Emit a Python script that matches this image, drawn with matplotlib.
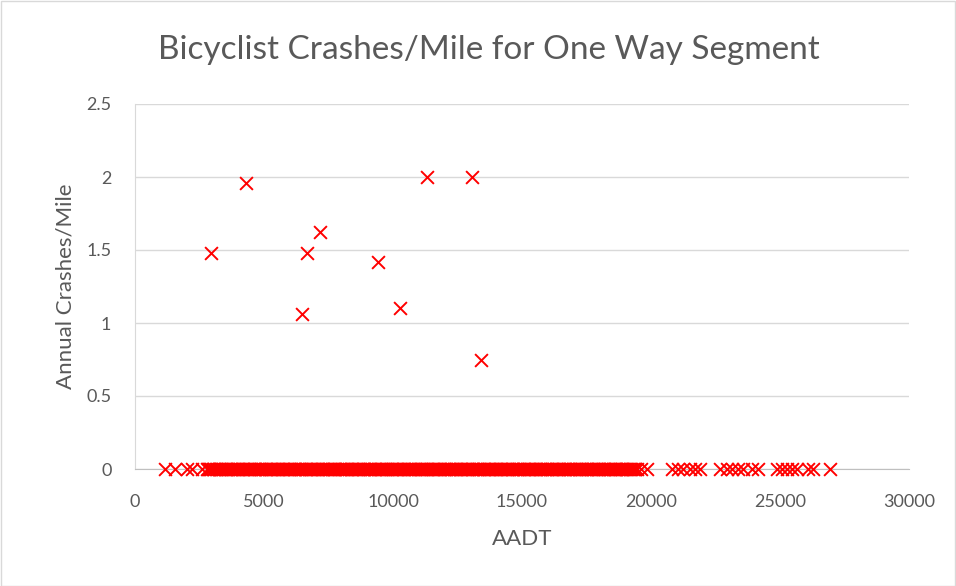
import matplotlib
matplotlib.use("Agg")
import matplotlib.pyplot as plt
from matplotlib.patches import Rectangle

# Non-zero crash segments
x_nonzero = [2950, 4300, 6470, 6670, 7170, 9420, 10270, 11320, 13060, 13410]
y_nonzero = [1.48, 1.96, 1.06, 1.48, 1.62, 1.42, 1.10, 2.00, 2.00, 0.75]

# Segments with zero crashes (AADT values)
x_zero_a = [
    1160, 1550, 2010, 2200, 2600,
    2790, 2870, 2960,
    3020, 3130, 3250, 3340, 3470, 3560, 3680, 3790, 3900,
    4010, 4140, 4230, 4360, 4450, 4580, 4670, 4800, 4890,
    5030, 5120, 5250, 5340, 5470, 5560, 5690, 5780, 5910,
    6000, 6130, 6220, 6350, 6440, 6570, 6660, 6790, 6880,
    7020, 7110, 7240, 7330, 7460, 7550, 7680, 7770, 7900,
    8010, 8140, 8230, 8360, 8450, 8580, 8670, 8800, 8890,
    9030, 9120, 9250, 9340, 9470, 9560, 9690, 9780, 9910,
    10000, 10130, 10220, 10350, 10440, 10570, 10660, 10790, 10880,
    11020, 11110, 11240, 11330, 11460, 11550, 11680, 11770, 11900,
    12010, 12140, 12230, 12360, 12450, 12580, 12670, 12800, 12890,
    13030, 13120, 13250, 13340, 13470, 13560, 13690, 13780, 13910,
    14000, 14130, 14220, 14350, 14440, 14570, 14660, 14790, 14880,
    15020, 15110, 15240, 15330, 15460, 15550, 15680, 15770, 15900,
    16010, 16140, 16230, 16360, 16450, 16580, 16670, 16800, 16890,
    17030, 17120, 17250, 17340, 17470, 17560, 17690, 17780, 17910,
    18000, 18130, 18220, 18350, 18440, 18570, 18660, 18790, 18880,
    19020, 19110, 19240, 19330, 19450,
    19600, 19850,
    20810, 21050, 21240, 21510, 21710, 21900,
    22670, 22950, 23140, 23370, 23570, 23910,
    24150, 24880, 25080, 25270, 25470, 25660, 26090, 26280, 26940,
]
x_zero_b = [
    2830, 2910,
    3070, 3190, 3290, 3400, 3510, 3620, 3730, 3840, 3950,
    4070, 4190, 4290, 4400, 4510, 4620, 4730, 4840, 4950,
    5070, 5180, 5290, 5400, 5510, 5620, 5730, 5850, 5960,
    6060, 6170, 6290, 6400, 6510, 6620, 6730, 6840, 6950,
    7070, 7180, 7290, 7400, 7510, 7620, 7730, 7840, 7960,
    8070, 8180, 8300, 8410, 8520, 8630, 8740, 8850, 8960,
    9080, 9190, 9300, 9410, 9520, 9630, 9740, 9850, 9960,
    10060, 10170, 10290, 10400, 10510, 10620, 10730, 10840, 10950,
    11070, 11180, 11290, 11400, 11510, 11620, 11730, 11840, 11960,
    12070, 12180, 12300, 12410, 12520, 12630, 12740, 12850, 12960,
    13080, 13190, 13300, 13410, 13520, 13630, 13740, 13850, 13960,
    14060, 14170, 14290, 14400, 14510, 14620, 14730, 14840, 14950,
    15070, 15180, 15290, 15400, 15510, 15620, 15730, 15840, 15960,
    16070, 16180, 16300, 16410, 16520, 16630, 16740, 16850, 16960,
    17080, 17190, 17300, 17410, 17520, 17630, 17740, 17850, 17960,
    18060, 18170, 18290, 18400, 18510, 18620, 18730, 18840, 18950,
    19070, 19180, 19290, 19390,
]
x_zero = x_zero_a + x_zero_b
y_zero = [0] * len(x_zero)

title = "Bicyclist Crashes/Mile for One Way Segment"
x_label = "AADT"
y_label = "Annual Crashes/Mile"
x_ticks = [0, 5000, 10000, 15000, 20000, 25000, 30000]
y_ticks = [0, 0.5, 1, 1.5, 2, 2.5]
y_tick_labels = ["0", "0.5", "1", "1.5", "2", "2.5"]

W, H = 956, 586
fig = plt.figure(figsize=(W / 100, H / 100), dpi=100)
plt.rcParams['font.family'] = ['Lato', 'DejaVu Sans']
txt = "#595959"

ax = fig.add_axes([135 / W, 1 - 469 / H, (909 - 135) / W, (469 - 104) / H])
ax.set_xlim(0, 30000)
ax.set_ylim(0, 2.5)
ax.set_xticks(x_ticks)
ax.set_yticks(y_ticks)
ax.set_yticklabels(y_tick_labels)
ax.grid(axis='y', color='#d9d9d9', linewidth=1)
ax.set_axisbelow(True)
for s in ['top', 'right']:
    ax.spines[s].set_visible(False)
ax.spines['left'].set_color('#d9d9d9')
ax.spines['bottom'].set_color('#bfbfbf')
ax.tick_params(axis='x', length=0, labelsize=13, colors=txt, pad=18)
ax.tick_params(axis='y', length=0, labelsize=13, colors=txt, pad=17)

ax.scatter(x_zero, y_zero, marker='x', s=85, color='#ff0000', linewidths=1.4, clip_on=False, zorder=3)
ax.scatter(x_nonzero, y_nonzero, marker='x', s=85, color='#ff0000', linewidths=1.4, clip_on=False, zorder=3)

ax.set_xlabel(x_label, fontsize=16, color=txt, labelpad=14)
ax.set_ylabel(y_label, fontsize=16, color=txt, labelpad=8)
fig.text(489 / W, 1 - 50 / H, title, fontsize=24, color=txt, ha='center', va='center')

fig.patches.append(Rectangle((0.5 / W, 0.5 / H), 1 - 1.5 / W, 1 - 1.5 / H, transform=fig.transFigure,
                             fill=False, edgecolor='#d9d9d9', linewidth=1))

fig.savefig("out.png", dpi=100, facecolor='white')
